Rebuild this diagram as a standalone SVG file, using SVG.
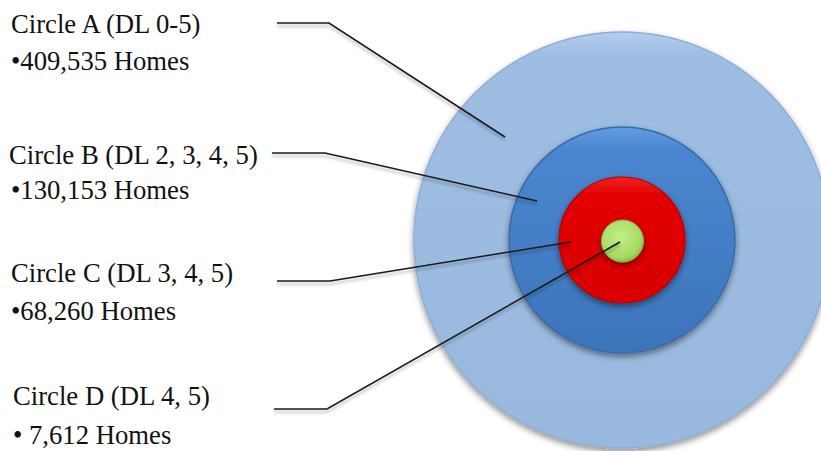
<svg xmlns="http://www.w3.org/2000/svg" width="821" height="451" viewBox="0 0 821 451">
  <style>
    .lbl { font-family: "Liberation Serif", "Times New Roman", serif; font-size: 26.7px; fill: #111; }
    .conn { fill: none; stroke: #1a1a1a; stroke-width: 1.6; stroke-linejoin: miter; }
  </style>
  <defs>
    <filter id="shadow" x="-20%" y="-20%" width="140%" height="140%">
      <feGaussianBlur in="SourceAlpha" stdDeviation="3"/>
      <feOffset dx="0" dy="3" result="b"/>
      <feComponentTransfer><feFuncA type="linear" slope="0.45"/></feComponentTransfer>
      <feMerge><feMergeNode/><feMergeNode in="SourceGraphic"/></feMerge>
    </filter>
    <filter id="lshadow" x="-10%" y="-50%" width="120%" height="200%">
      <feGaussianBlur in="SourceAlpha" stdDeviation="1.5"/>
      <feOffset dx="0" dy="3"/>
      <feComponentTransfer><feFuncA type="linear" slope="0.3"/></feComponentTransfer>
      <feMerge><feMergeNode/><feMergeNode in="SourceGraphic"/></feMerge>
    </filter>
    <linearGradient id="gA" x1="0" y1="0" x2="0" y2="1">
      <stop offset="0" stop-color="#b2cdee"/>
      <stop offset="0.06" stop-color="#9ebde3"/>
      <stop offset="1" stop-color="#9ab9df"/>
    </linearGradient>
    <linearGradient id="gB" x1="0" y1="0" x2="0" y2="1">
      <stop offset="0" stop-color="#639ce2"/>
      <stop offset="0.1" stop-color="#4a86d0"/>
      <stop offset="1" stop-color="#3d74ba"/>
    </linearGradient>
    <linearGradient id="gC" x1="0" y1="0" x2="0" y2="1">
      <stop offset="0" stop-color="#f42222"/>
      <stop offset="0.12" stop-color="#e30606"/>
      <stop offset="1" stop-color="#d80000"/>
    </linearGradient>
    <radialGradient id="gD" cx="0.45" cy="0.4" r="0.6">
      <stop offset="0" stop-color="#c2ee88"/>
      <stop offset="0.8" stop-color="#a6dc62"/>
      <stop offset="1" stop-color="#8cc248"/>
    </radialGradient>
  </defs>

  <g id="circleA" filter="url(#shadow)">
    <circle cx="622" cy="240" r="208" fill="url(#gA)" stroke="#8fadd3" stroke-width="1.5"/>
  </g>
  <g id="circleB" filter="url(#shadow)">
    <circle cx="622" cy="240" r="113" fill="url(#gB)" stroke="#3a6aa8" stroke-width="1.5"/>
  </g>
  <g id="circleC" filter="url(#shadow)">
    <circle cx="622" cy="240" r="63" fill="url(#gC)" stroke="#b80000" stroke-width="1.2"/>
  </g>
  <g id="circleD" filter="url(#shadow)">
    <circle cx="622.5" cy="241" r="21" fill="url(#gD)" stroke="#86b848" stroke-width="1"/>
  </g>

  <g id="connectors" filter="url(#lshadow)">
    <polyline class="conn" points="277,23 329,23 505,137"/>
    <polyline class="conn" points="272,153 325,153 537,201"/>
    <polyline class="conn" points="277,281 330,281 571,242"/>
    <polyline class="conn" points="274,409 327,409 620,242"/>
  </g>

  <g id="labelA">
    <text class="lbl" x="11" y="33">Circle A (DL 0-5)</text>
    <text class="lbl" x="11" y="70">•409,535 Homes</text>
  </g>
  <g id="labelB">
    <text class="lbl" x="9" y="164">Circle B (DL 2, 3, 4, 5)</text>
    <text class="lbl" x="11" y="199">•130,153 Homes</text>
  </g>
  <g id="labelC">
    <text class="lbl" x="11" y="282">Circle C (DL 3, 4, 5)</text>
    <text class="lbl" x="11" y="320">•68,260 Homes</text>
  </g>
  <g id="labelD">
    <text class="lbl" x="13" y="405">Circle D (DL 4, 5)</text>
    <text class="lbl" x="13" y="444">• 7,612 Homes</text>
  </g>
</svg>
